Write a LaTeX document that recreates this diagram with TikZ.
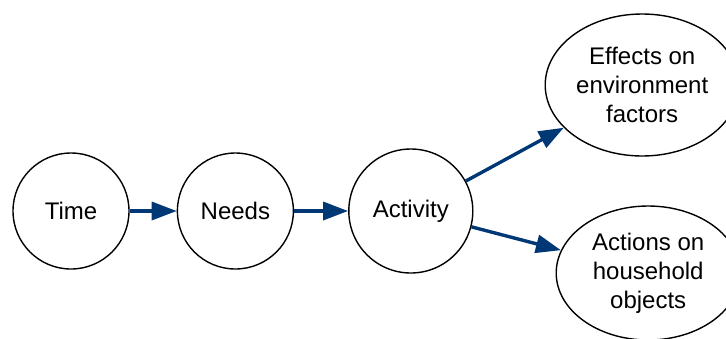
\documentclass[tikz,border=0pt]{standalone}
\usepackage{fontspec}
\setmainfont{Liberation Sans}
\usetikzlibrary{arrows.meta,positioning,shapes.geometric}
\definecolor{flowBlue}{RGB}{0,56,118}

\begin{document}
\begin{tikzpicture}[
    font=\fontsize{12}{14.5}\selectfont,
    flow/.style={-{Triangle[length=12.5pt,width=9pt]}, line width=1.7pt, draw=flowBlue},
    state/.style={
      circle,
      draw=black,
      line width=0.7pt,
      align=center,
      inner sep=0pt,
      minimum size=58pt
    },
    outcome/.style={
      ellipse,
      draw=black,
      line width=0.7pt,
      align=center,
      inner sep=0pt
    }
  ]
    \useasboundingbox (0,0) rectangle (363pt,-169pt);

    \node[state] (time) at (35.5pt,-105.5pt) {Time};
    \node[state, right=23.5pt of time] (needs) {Needs};
    \node[state, minimum size=62pt, right=27pt of needs] (activity) {Activity};

    \node[outcome, minimum width=97pt, minimum height=71pt,
      right=35.5pt of activity, yshift=63pt] (effects) {
      Effects on\\
      environment\\
      factors
    };
    \node[outcome, minimum width=92pt, minimum height=67pt,
      right=41pt of activity, yshift=-31pt] (actions) {
      Actions on\\
      household\\
      objects
    };

    \draw[flow] (time) -- (needs);
    \draw[flow] (needs) -- (activity);
    \draw[flow] (activity) -- (effects);
    \draw[flow] (activity) -- (actions);
  \end{tikzpicture}
\end{document}
